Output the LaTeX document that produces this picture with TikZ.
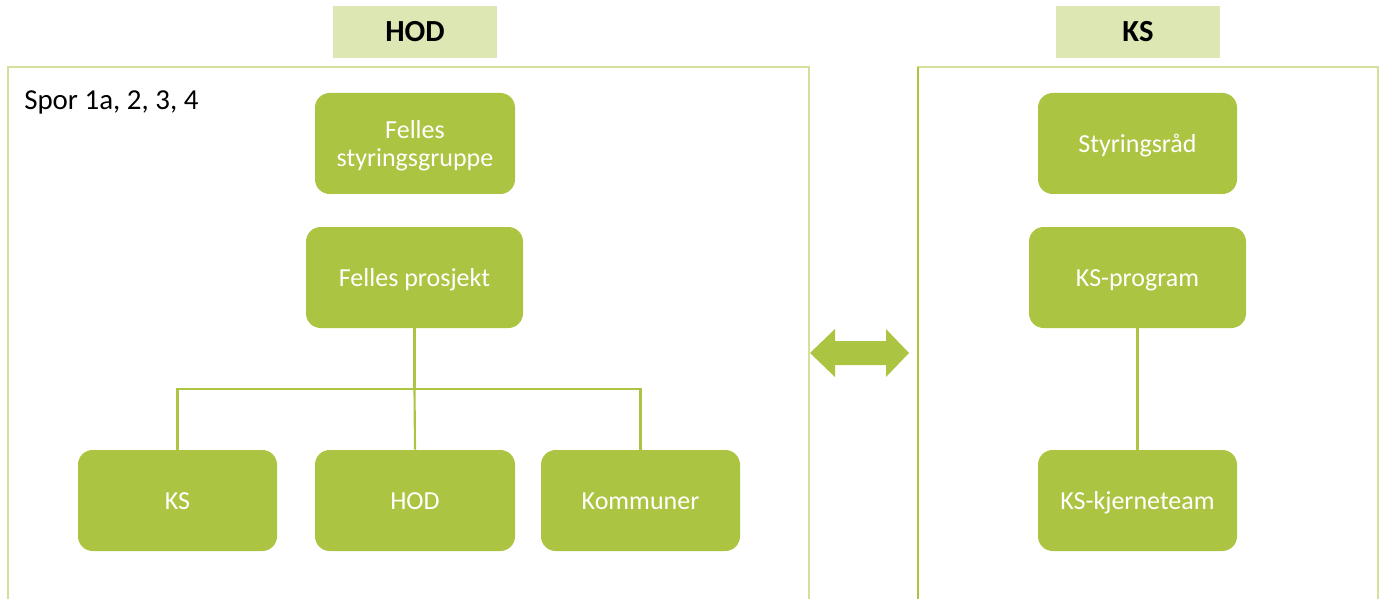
\documentclass[tikz,border=0pt]{standalone}
\usepackage{fontspec}
\setmainfont{Carlito}
\definecolor{boxgreen}{HTML}{ABC442}
\definecolor{headfill}{HTML}{DDE7B4}
\definecolor{framegreen}{HTML}{D3E09C}
\begin{document}
\begin{tikzpicture}[x=0.75pt,y=-0.75pt,
  orgbox/.style={fill=boxgreen,draw=none,rounded corners=11pt,text=white,font=\fontsize{19.5}{21.5}\selectfont,align=center,inner sep=0pt,text height=13.4pt,text depth=0pt},
  header/.style={fill=headfill,draw=none,font=\fontsize{23}{27}\selectfont\bfseries,inner sep=0pt},
  frame/.style={draw=framegreen,line width=1.5pt},
  conn/.style={draw=boxgreen,line width=1.6pt}]
\useasboundingbox (0,0) rectangle (1385,599);
% frames
\draw[frame] (8,599) -- (8,67) -- (809,67) -- (809,599);
\draw[frame] (918,599) -- (918,67) -- (1378,67) -- (1378,599);
\draw[draw=boxgreen,line width=1.5pt] (918,599) -- (918,67);
% headers
\node[header,minimum width=164*0.75pt,minimum height=52*0.75pt] (hh) at (415,32) {HOD};
\node[header,minimum width=164*0.75pt,minimum height=52*0.75pt] (kh) at (1138,32) {KS};
\node[anchor=west,inner sep=0pt,font=\fontsize{21.7}{25}\selectfont] (spor) at (24,102) {Spor 1a, 2, 3, 4};
% left boxes
\node[orgbox,minimum width=200*0.75pt,minimum height=101*0.75pt,text height=0pt] (fs) at (415,143.5) {\raisebox{4pt}[0pt][0pt]{\begin{tabular}[t]{@{}c@{}}Felles\\styringsgruppe\end{tabular}}};
\node[orgbox,minimum width=217*0.75pt,minimum height=101*0.75pt] (fp) at (414.5,277.5) {Felles prosjekt};
\node[orgbox,minimum width=199*0.75pt,minimum height=101*0.75pt] (ks) at (177.5,500.5) {KS};
\node[orgbox,minimum width=200*0.75pt,minimum height=101*0.75pt] (hod) at (415,500.5) {HOD};
\node[orgbox,minimum width=199*0.75pt,minimum height=101*0.75pt] (kom) at (640.5,500.5) {Kommuner};
% right boxes
\node[orgbox,minimum width=199*0.75pt,minimum height=101*0.75pt] (sr) at (1137.5,143.5) {Styringsråd};
\node[orgbox,minimum width=217*0.75pt,minimum height=101*0.75pt] (kp) at (1137.5,277.5) {KS-program};
\node[orgbox,minimum width=199*0.75pt,minimum height=101*0.75pt] (kk) at (1137.5,500.5) {KS-kjerneteam};
% connectors
\coordinate (bus) at (414.5,389);
\draw[conn] (fp.south) -- (bus);
\draw[conn] (ks.north) |- (bus) -| (kom.north);
\draw[conn] (bus) -- (hod.north);
\draw[conn] (kp.south) -- (kk.north);
% double arrow
\coordinate (la) at (810,353);
\coordinate (ra) at (909,353);
\fill[boxgreen] (la) -- (835,329) -- (835,341) -- (886,341) -- (886,329) -- (ra) -- (886,377) -- (886,365) -- (835,365) -- (835,377) -- cycle;
\end{tikzpicture}
\end{document}
